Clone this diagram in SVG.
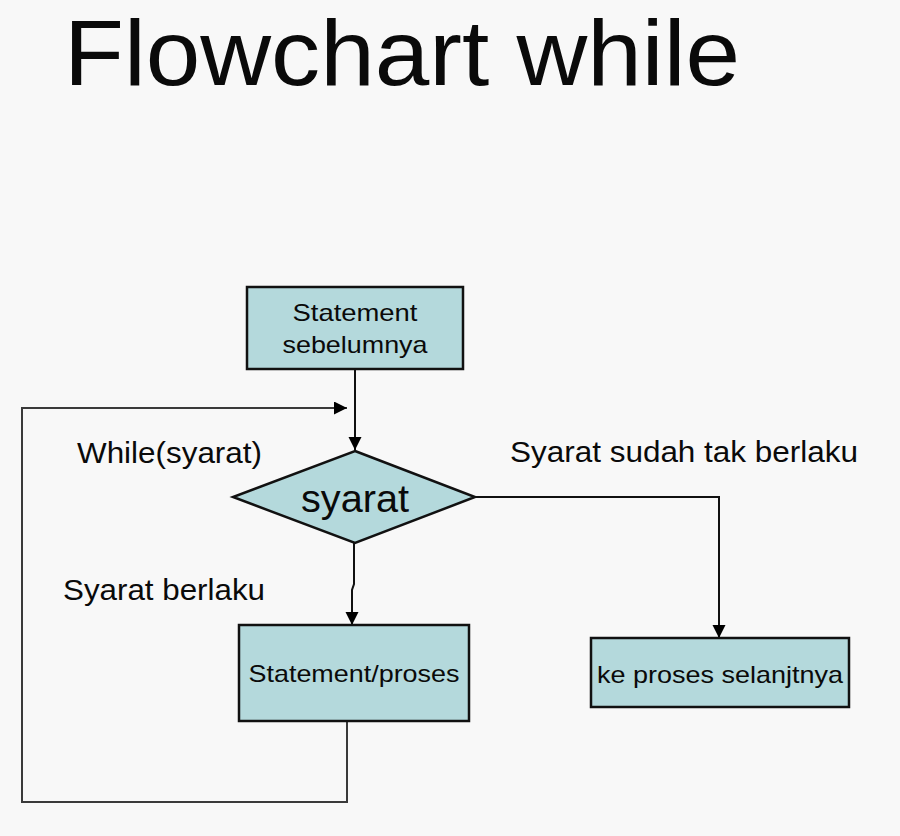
<svg xmlns="http://www.w3.org/2000/svg" width="900" height="836" viewBox="0 0 900 836">
  <defs>
    <marker id="arrow" markerUnits="userSpaceOnUse" markerWidth="14" markerHeight="14" refX="13" refY="6.5" orient="auto">
      <path d="M0,0 L13,6.5 L0,13 Z" fill="#000"/>
    </marker>
    <style>
      text { font-family: "Liberation Sans", Arial, sans-serif; fill: #0a0a0a; }
      .node { fill: #b4d9dc; stroke: #111; stroke-width: 2.5; }
      .conn { fill: none; stroke: #111; stroke-width: 2; }
      .loop { fill: none; stroke: #3a3a3a; stroke-width: 2; }
      .box-text { font-size: 24px; text-anchor: middle; }
      .label { font-size: 29px; }
    </style>
  </defs>
  <rect x="0" y="0" width="900" height="836" fill="#f8f8f8"/>

  <text id="title" x="64" y="85" font-size="93" textLength="676" lengthAdjust="spacingAndGlyphs">Flowchart while</text>

  <g id="connectors">
    <path class="conn" d="M355 369 V450" marker-end="url(#arrow)"/>
    <path class="conn" d="M354 543 V584 L352 590 V625" marker-end="url(#arrow)"/>
    <path class="conn" d="M475 497 H719 V638" marker-end="url(#arrow)"/>
    <path class="loop" d="M347 721 V802 H22 V408 H347" marker-end="url(#arrow)"/>
  </g>

  <g id="node-statement-sebelumnya">
    <rect class="node" x="247" y="287" width="216" height="82"/>
    <text class="box-text" x="355" y="321" textLength="125" lengthAdjust="spacingAndGlyphs">Statement</text>
    <text class="box-text" x="355" y="353" textLength="145" lengthAdjust="spacingAndGlyphs">sebelumnya</text>
  </g>

  <g id="node-syarat">
    <polygon class="node" points="355,451 475,497 355,543 233,497"/>
    <text x="355" y="512" font-size="38" text-anchor="middle" textLength="108" lengthAdjust="spacingAndGlyphs">syarat</text>
  </g>

  <g id="node-statement-proses">
    <rect class="node" x="239" y="625" width="230" height="96"/>
    <text class="box-text" x="354" y="682" textLength="211" lengthAdjust="spacingAndGlyphs">Statement/proses</text>
  </g>

  <g id="node-ke-proses">
    <rect class="node" x="591" y="638" width="258" height="69"/>
    <text class="box-text" x="720" y="683" font-size="26" textLength="246" lengthAdjust="spacingAndGlyphs">ke proses selanjtnya</text>
  </g>

  <g id="labels">
    <text class="label" x="77" y="463" textLength="185" lengthAdjust="spacingAndGlyphs">While(syarat)</text>
    <text class="label" x="63" y="600" textLength="202" lengthAdjust="spacingAndGlyphs">Syarat berlaku</text>
    <text class="label" x="510" y="462" textLength="348" lengthAdjust="spacingAndGlyphs">Syarat sudah tak berlaku</text>
  </g>
</svg>
